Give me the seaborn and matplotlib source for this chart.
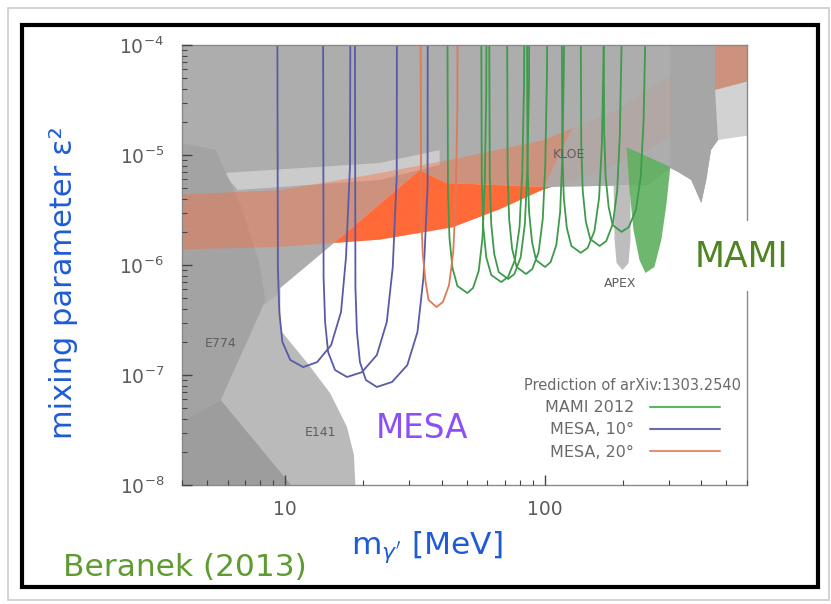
import numpy as np
import pandas as pd
import seaborn as sns
import matplotlib.pyplot as plt
from matplotlib.patches import Polygon, Rectangle
from matplotlib.lines import Line2D
from matplotlib.ticker import LogLocator, NullFormatter, FuncFormatter

# values: dark photon mass in MeV, mixing parameter eps^2

# MESA 10 deg reach curves
mesa10_mass = [
    [9.32, 9.36, 9.48, 9.74, 10.45, 11.72, 13.26, 15.01, 16.39, 17.13, 17.74, 17.8],
    [13.98, 14.04, 14.23, 14.61, 15.54, 17.28, 19.72, 22.52, 24.59, 25.93, 26.86, 26.9],
    [18.54, 18.62, 18.87, 19.38, 20.43, 22.52, 25.77, 29.50, 32.28, 34.06, 35.31, 35.35],
]
mesa10_eps2 = [
    [1.11e-4, 9.59e-7, 3.74e-7, 2.0e-7, 1.37e-7, 1.18e-7, 1.31e-7, 1.87e-7, 3.74e-7, 1.18e-6, 7.78e-6, 1.11e-4],
    [1.11e-4, 7.78e-7, 3.03e-7, 1.62e-7, 1.11e-7, 9.59e-8, 1.06e-7, 1.52e-7, 3.03e-7, 9.59e-7, 6.31e-6, 1.11e-4],
    [1.11e-4, 6.31e-7, 2.46e-7, 1.31e-7, 9.0e-8, 7.78e-8, 8.64e-8, 1.23e-7, 2.46e-7, 7.78e-7, 5.12e-6, 1.11e-4],
]

# MESA 20 deg
mesa20_mass = [[33.20, 33.34, 33.79, 34.69, 35.62, 38.23, 40.43, 42.73, 44.34, 45.33, 46.01, 46.05]]
mesa20_eps2 = [[1.11e-4, 3.37e-6, 1.31e-6, 7.0e-7, 4.81e-7, 4.15e-7, 4.61e-7, 6.58e-7, 1.31e-6, 4.15e-6, 2.73e-5, 1.11e-4]]

# MAMI 2012
mami_mass = [
    [42.12, 42.31, 42.88, 44.03, 46.01, 50.24, 52.84, 55.56, 57.46, 58.64, 59.41, 59.5],
    [56.86, 57.11, 57.87, 59.41, 62.10, 67.83, 72.08, 76.62, 79.79, 81.78, 83.09, 83.2],
    [61.02, 61.29, 62.10, 63.76, 66.34, 72.14, 76.28, 80.64, 83.68, 85.56, 86.85, 86.9],
    [71.52, 71.83, 72.78, 74.74, 77.77, 84.56, 89.41, 94.52, 98.08, 100.3, 101.8, 102.0],
    [85.31, 85.70, 86.85, 89.18, 92.38, 100.0, 105.1, 110.6, 114.4, 116.7, 118.2, 118.5],
    [116.2, 116.7, 118.2, 121.4, 126.4, 137.4, 146.0, 155.1, 161.6, 165.7, 168.3, 168.6],
    [137.4, 138.0, 139.8, 143.6, 149.4, 162.4, 172.2, 182.5, 189.7, 194.2, 197.2, 197.5],
    [168.3, 169.0, 171.3, 175.9, 182.2, 197.2, 210.2, 224.0, 233.7, 239.7, 243.8],
]
mami_eps2 = [
    [1.11e-4, 4.52e-6, 1.76e-6, 9.39e-7, 6.44e-7, 5.56e-7, 6.18e-7, 8.81e-7, 1.76e-6, 5.56e-6, 3.66e-5, 1.11e-4],
    [1.11e-4, 5.69e-6, 2.21e-6, 1.18e-6, 8.11e-7, 7.0e-7, 7.78e-7, 1.11e-6, 2.21e-6, 7.0e-6, 4.61e-5, 1.11e-4],
    [1.11e-4, 6.05e-6, 2.36e-6, 1.26e-6, 8.63e-7, 7.46e-7, 8.28e-7, 1.18e-6, 2.36e-6, 7.46e-6, 4.91e-5, 1.11e-4],
    [1.11e-4, 6.71e-6, 2.62e-6, 1.40e-6, 9.59e-7, 8.28e-7, 9.2e-7, 1.31e-6, 2.62e-6, 8.28e-6, 5.45e-5, 1.11e-4],
    [1.11e-4, 7.78e-6, 3.03e-6, 1.62e-6, 1.11e-6, 9.59e-7, 1.06e-6, 1.52e-6, 3.03e-6, 9.59e-6, 6.31e-5, 1.11e-4],
    [1.11e-4, 1.04e-5, 4.07e-6, 2.17e-6, 1.49e-6, 1.29e-6, 1.43e-6, 2.04e-6, 4.07e-6, 1.29e-5, 8.46e-5, 1.11e-4],
    [1.11e-4, 1.21e-5, 4.71e-6, 2.51e-6, 1.72e-6, 1.49e-6, 1.65e-6, 2.36e-6, 4.71e-6, 1.49e-5, 9.79e-5, 1.11e-4],
    [1.11e-4, 1.62e-5, 6.31e-6, 3.37e-6, 2.31e-6, 2.0e-6, 2.21e-6, 3.16e-6, 6.31e-6, 2.0e-5, 1.31e-4],
]

# allowed (white) region, everything else is excluded
allowed_mass = [9.57, 16.24, 32.9, 41.75, 99.1, 250.3, 304, 326, 366, 400, 418, 436, 464, 569, 700,
                700, 18.87, 18.38, 17.28, 14.87, 12.14, 9.57]
allowed_eps2 = [6.18e-7, 1.76e-6, 7.3e-6, 5.56e-6, 5.12e-6, 5.33e-6, 7.62e-6, 7.0e-6, 5.93e-6, 3.66e-6,
                5.93e-6, 1.11e-5, 1.37e-5, 1.58e-5, 1.69e-5, 5e-9, 5e-9, 1.87e-8, 3.37e-8, 6.86e-8, 1.29e-7, 2.56e-7]

# a_mu favoured band
band_lo_mass = [3.5, 9.57, 16.24, 23.1, 44.0, 66.7, 97.4, 161, 250, 389, 700]
band_lo_eps2 = [1.37e-6, 1.46e-6, 1.6e-6, 1.7e-6, 2.2e-6, 3.2e-6, 4.8e-6, 7.0e-6, 1.1e-5, 2.1e-5, 5.5e-5]
band_hi_mass = [3.5, 9.57, 21.2, 42.9, 99.0, 192, 326, 464, 700]
band_hi_eps2 = [4.3e-6, 4.8e-6, 6.6e-6, 9.0e-6, 1.37e-5, 2.6e-5, 5.9e-5, 1.0e-4, 2.0e-4]

# other exclusion shapes
stripe_mass = [5.79, 23.1, 39.3, 39.3, 23.1, 6.55]
stripe_eps2 = [6.86e-6, 8.46e-6, 1.11e-5, 8.11e-6, 5.93e-6, 4.81e-6]
e774_mass = [3.5, 5.39, 6.72, 7.88, 8.38, 7.21, 5.64, 3.5]
e774_eps2 = [1.37e-5, 1.11e-5, 3.51e-6, 1.11e-6, 4.81e-7, 2.08e-7, 5.93e-8, 3.16e-8]
e141_mass = [5.64, 8.24, 10.45, 13.62, 19.38, 21.17, 10.92]
e141_eps2 = [5.93e-8, 4.33e-7, 6.58e-7, 2.56e-7, 3.9e-8, 9e-9, 9e-9]
e137_mass = [3.5, 5.64, 10.92, 3.5]
e137_eps2 = [3.16e-8, 5.93e-8, 9e-9, 9e-9]
upper_mass = [192, 304, 304, 250.3, 99.1]
upper_eps2 = [1.3e-4, 1.3e-4, 7.62e-6, 5.33e-6, 5.12e-6]
kloe_mass = [304, 452, 452, 464, 436, 418, 400, 366, 326, 304]
kloe_eps2 = [1.3e-4, 1.3e-4, 3.9e-5, 1.37e-5, 1.11e-5, 5.93e-6, 3.66e-6, 5.93e-6, 7.0e-6, 7.62e-6]
wedge_mass = [452, 700, 700, 464]
wedge_eps2 = [3.9e-5, 5.12e-5, 1.58e-5, 1.37e-5]
apex_mass = [183.8, 185.4, 188.7, 199.0, 209.8, 213.5, 213.5]
apex_eps2 = [5.33e-6, 1.69e-6, 1.04e-6, 9.0e-7, 1.04e-6, 1.69e-6, 5.33e-6]
mami2011_mass = [206.2, 211.7, 219.3, 231.2, 243.8, 264.0, 280.7, 293.4, 304]
mami2011_eps2 = [1.18e-5, 4.81e-6, 2.08e-6, 1.11e-6, 8.46e-7, 9.59e-7, 1.69e-6, 3.51e-6, 7.78e-6]

region_labels = ['E774', 'E141', 'KLOE', 'APEX']
label_mass = [5.64, 13.62, 123.6, 195]
label_eps2 = [1.95e-7, 3.03e-8, 1.02e-5, 6.8e-7]

rows = []
for name, masses, eps in [('MAMI 2012', mami_mass, mami_eps2),
                          ('MESA, 10°', mesa10_mass, mesa10_eps2),
                          ('MESA, 20°', mesa20_mass, mesa20_eps2)]:
    for i, (m, e) in enumerate(zip(masses, eps)):
        for mm, ee in zip(m, e):
            rows.append((name, f'{name}-{i}', mm, ee))
curves = pd.DataFrame(rows, columns=['series', 'curve', 'mass', 'eps2'])

palette = {'MAMI 2012': '#3f9a4c', 'MESA, 10°': '#5a5aa6', 'MESA, 20°': '#dd7a58'}
legend_colors = ['#5ab565', '#6c6cad', '#e39173']

sns.set_theme(style='ticks')
plt.rcParams['font.family'] = ['DejaVu Sans']

fig = plt.figure(figsize=(8.31, 6.04), dpi=100)
ax = fig.add_axes([182 / 831, 1 - 485 / 604, 565 / 831, 440 / 604])
ax.set(xscale='log', yscale='log')
ax.set_facecolor('#adadad')

def poly(xs, ys, **kw):
    p = Polygon(np.column_stack([xs, ys]), closed=True, lw=0, **kw)
    ax.add_patch(p)
    return p

poly(stripe_mass, stripe_eps2, fc='#cbcbcb', zorder=1)
poly(e774_mass, e774_eps2, fc='#a3a3a3', zorder=1)
poly(e137_mass, e137_eps2, fc='#9d9d9d', zorder=1)
poly(e141_mass, e141_eps2, fc='#bababa', zorder=1)
white = poly(allowed_mass, allowed_eps2, fc='white', zorder=2)

band_x = band_lo_mass + band_hi_mass[::-1]
band_y = band_lo_eps2 + band_hi_eps2[::-1]
poly(band_x, band_y, fc='#ff6a38', alpha=0.4, zorder=3)
bright = poly(band_x, band_y, fc='#ff6a38', zorder=4)
bright.set_clip_path(white)

poly(upper_mass, upper_eps2, fc='#adadad', alpha=0.85, zorder=3.5)
poly(kloe_mass, kloe_eps2, fc='#a6a6a6', zorder=3.5)
poly(wedge_mass, wedge_eps2, fc='#d2d2d2', zorder=3.5)
poly(apex_mass, apex_eps2, fc='#bdbdbd', zorder=5)
poly(mami2011_mass, mami2011_eps2, fc='#62b162', alpha=0.92, zorder=5)

for t, m, e in zip(region_labels, label_mass, label_eps2):
    ax.text(m, e, t, fontsize=9, color='#5e5e5e', ha='center', va='center', zorder=7)

sns.lineplot(data=curves, x='mass', y='eps2', hue='series', units='curve', estimator=None,
             sort=False, palette=palette, linewidth=1.3, legend=False, ax=ax, zorder=6)

ax.set_xlim(4, 600)
ax.set_ylim(1e-8, 1e-4)
ax.set_xlabel('')
ax.set_ylabel('')
ax.yaxis.set_major_locator(LogLocator(base=10, numticks=20))
ax.yaxis.set_minor_locator(LogLocator(base=10, subs=np.arange(2, 10), numticks=100))
ax.xaxis.set_minor_locator(LogLocator(base=10, subs=np.arange(2, 10), numticks=100))
ax.xaxis.set_major_formatter(FuncFormatter(lambda v, _: f'{v:g}'))
ax.xaxis.set_minor_formatter(NullFormatter())
ax.yaxis.set_minor_formatter(NullFormatter())
ax.tick_params(which='both', direction='in', color='#444444', top=False, right=False)
ax.tick_params(which='major', length=7, width=1, labelsize=13.5, labelcolor='#5c5c5c')
ax.tick_params(which='minor', length=3.5, width=0.8)
ax.tick_params(axis='x', pad=11)
ax.tick_params(axis='y', pad=13)
ax.xaxis.set_zorder(9)
ax.yaxis.set_zorder(9)
for s in ax.spines.values():
    s.set_color('#8a8a8a')
    s.set_linewidth(1)
    s.set_zorder(9)

handles = [Line2D([], [], color=c, lw=1.5) for c in legend_colors]
leg = ax.legend(handles, ['MAMI 2012', 'MESA, 10°', 'MESA, 20°'],
                title='Prediction of arXiv:1303.2540', loc='lower right',
                bbox_to_anchor=(1.015, 0.025), frameon=False, markerfirst=False,
                fontsize=11.5, title_fontsize=10.5, handlelength=4.4, handletextpad=1.0,
                labelspacing=0.45, labelcolor='#6a6a6a')
leg.get_title().set_color('#6a6a6a')
leg.set_zorder(8)

# annotations around the plot
fig.text(64 / 831, 1 - 283 / 604, 'mixing parameter ε²', rotation=90, ha='center', va='center',
         fontsize=22, color='#1f5bd8')
fig.text(427 / 831, 1 - 547 / 604, r"m$_{\gamma'}$ [MeV]", ha='center', va='center',
         fontsize=22.5, color='#1f5bd8')
fig.text(185 / 831, 1 - 567 / 604, 'Beranek (2013)', ha='center', va='center',
         fontsize=22.5, color='#5f9b32')
fig.text(422 / 831, 1 - 428 / 604, 'MESA', ha='center', va='center',
         fontsize=23.5, color='#8c50f5')

fig.add_artist(Rectangle((676 / 831, 1 - 291 / 604), 135 / 831, 70 / 604, transform=fig.transFigure,
                         fc='white', ec='none', zorder=10))
fig.text(741 / 831, 1 - 257 / 604, 'MAMI', ha='center', va='center',
         fontsize=25, color='#4f8420', zorder=11)

fig.add_artist(Rectangle((8 / 831, 4 / 604), 821 / 831, 592 / 604, transform=fig.transFigure,
                         fill=False, ec='#cccccc', lw=1.2, zorder=12))
fig.add_artist(Rectangle((22 / 831, 1 - 587 / 604), 796 / 831, 562 / 604, transform=fig.transFigure,
                         fill=False, ec='black', lw=3, zorder=12))

fig.savefig('out.png', dpi=100)
